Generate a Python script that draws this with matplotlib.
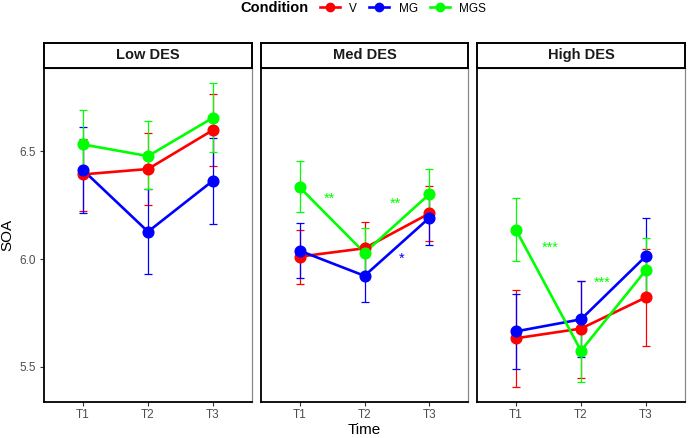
import matplotlib.pyplot as plt
from matplotlib.lines import Line2D
from matplotlib.offsetbox import HPacker

plt.rcParams['font.family'] = ['Liberation Sans', 'DejaVu Sans']

times = ["T1", "T2", "T3"]
panels = ["Low DES", "Med DES", "High DES"]
conditions = ["V", "MG", "MGS"]
colors = {"V": "#FF0000", "MG": "#0000FF", "MGS": "#00FF00"}

# means per panel, condition -> [T1, T2, T3]
mean_low = {"V": [6.393, 6.418, 6.599], "MG": [6.413, 6.127, 6.364], "MGS": [6.532, 6.478, 6.656]}
mean_med = {"V": [6.011, 6.050, 6.212], "MG": [6.039, 5.922, 6.192], "MGS": [6.334, 6.029, 6.302]}
mean_high = {"V": [5.632, 5.677, 5.822], "MG": [5.664, 5.720, 6.014], "MGS": [6.135, 5.574, 5.949]}

# error bar ends
upper_low = {"V": [6.559, 6.586, 6.765], "MG": [6.614, 6.325, 6.563], "MGS": [6.690, 6.639, 6.816]}
lower_low = {"V": [6.223, 6.251, 6.432], "MG": [6.215, 5.929, 6.164], "MGS": [6.382, 6.325, 6.495]}
upper_med = {"V": [6.136, 6.173, 6.339], "MG": [6.166, 6.050, 6.320], "MGS": [6.454, 6.145, 6.420]}
lower_med = {"V": [5.885, 5.930, 6.084], "MG": [5.913, 5.799, 6.065], "MGS": [6.217, 5.918, 6.185]}
upper_high = {"V": [5.856, 5.898, 6.046], "MG": [5.839, 5.898, 6.190], "MGS": [6.282, 5.720, 6.096]}
lower_high = {"V": [5.407, 5.449, 5.598], "MG": [5.489, 5.544, 5.837], "MGS": [5.991, 5.429, 5.820]}

means = [mean_low, mean_med, mean_high]
uppers = [upper_low, upper_med, upper_high]
lowers = [lower_low, lower_med, lower_high]

# significance labels: (panel index, x position in time units, y, text, condition)
sig_labels = [
    (1, 1.46, 6.28, "**", "MGS"),
    (1, 2.47, 6.255, "**", "MGS"),
    (1, 2.57, 6.0, "*", "MG"),
    (2, 1.53, 6.05, "***", "MGS"),
    (2, 2.33, 5.89, "***", "MGS"),
]

W, H = 688, 438
fig = plt.figure(figsize=(W / 100, H / 100), dpi=100)

lefts = [44, 260.5, 477]
pw = 208
ax_top, ax_bot = 68, 401.7
strip_top = 42.5

x = [1, 2, 3]
for i, name in enumerate(panels):
    ax = fig.add_axes([lefts[i] / W, 1 - ax_bot / H, pw / W, (ax_bot - ax_top) / H])
    for c in conditions:
        m = means[i][c]
        lo = [m[k] - lowers[i][c][k] for k in range(3)]
        hi = [uppers[i][c][k] - m[k] for k in range(3)]
        ax.errorbar(x, m, yerr=[lo, hi], fmt="none", ecolor=colors[c],
                    elinewidth=0.9, capsize=2.7, capthick=0.9, zorder=2)
        ax.plot(x, m, color=colors[c], lw=1.9, zorder=3)
        ax.plot(x, m, "o", color=colors[c], ms=7.7, zorder=4)
    for p, xs, ys, txt, c in sig_labels:
        if p == i:
            ax.text(xs, ys, txt, color=colors[c], fontsize=10.5, ha="center", va="center")

    ax.set_xlim(0.4, 3.6)
    ax.set_ylim(5.3375, 6.887)
    ax.set_xticks(x)
    ax.set_xticklabels(times)
    ax.set_yticks([5.5, 6.0, 6.5])
    ax.tick_params(colors="#333333", labelcolor="#4D4D4D", labelsize=8.5, length=3, width=0.8, pad=2.5)
    if i > 0:
        ax.tick_params(axis="y", left=False, labelleft=False)
    else:
        ax.set_ylabel("SOA", fontsize=11, labelpad=4)
    if i == 1:
        ax.set_xlabel("Time", fontsize=11, labelpad=1)
    for s in ["top", "right"]:
        ax.spines[s].set_color("#888888")
        ax.spines[s].set_linewidth(0.9)
    for s in ["left", "bottom"]:
        ax.spines[s].set_color("black")
        ax.spines[s].set_linewidth(1.3)

    # facet strip
    sax = fig.add_axes([lefts[i] / W, 1 - ax_top / H, pw / W, (ax_top - strip_top) / H])
    sax.set_xticks([])
    sax.set_yticks([])
    for s in sax.spines.values():
        s.set_linewidth(1.4)
        s.set_color("black")
    sax.text(0.5, 0.5, name, ha="center", va="center", fontsize=10.5, fontweight="bold",
             color="#1A1A1A", transform=sax.transAxes)

handles = [Line2D([0], [0], color=colors[c], lw=1.9, marker="o", ms=6) for c in conditions]
leg = fig.legend(handles, conditions, loc="center", bbox_to_anchor=(0.528, 1 - 8.5 / H),
                 ncol=3, frameon=False, fontsize=8.5, title="Condition",
                 handlelength=1.7, handletextpad=0.8, columnspacing=1.0)
leg.get_title().set_fontweight("bold")
leg.get_title().set_fontsize(10.5)
# put the legend title to the left of the entries
vp = leg._legend_box
leg._legend_box = HPacker(pad=0, sep=8, children=vp.get_children(), align="center")
leg._legend_box.set_figure(fig)
leg._legend_box.set_offset(vp._offset)

fig.savefig("out.png", dpi=100)
